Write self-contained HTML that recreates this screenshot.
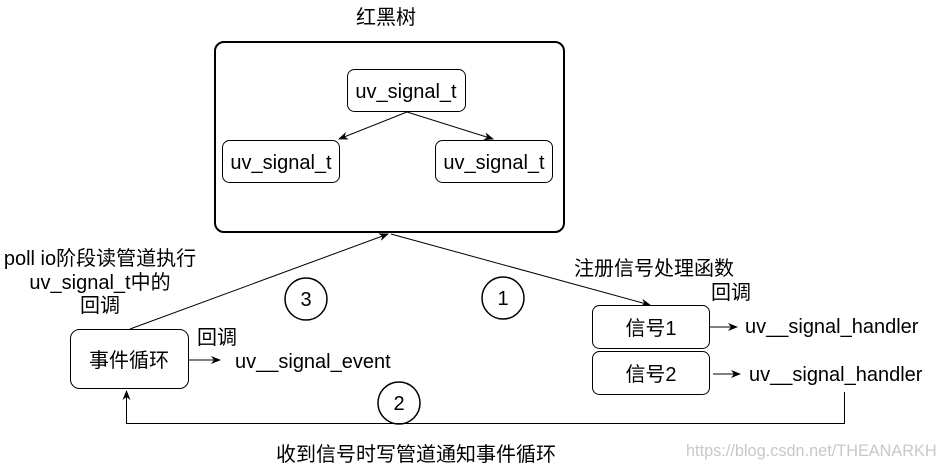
<!DOCTYPE html>
<html><head><meta charset="utf-8"><style>
html,body{margin:0;padding:0;background:#fff;}
svg{display:block;}
text{font-family:"Liberation Sans","Noto Sans CJK SC",sans-serif;font-size:20px;fill:#000;}
</style></head><body>
<svg width="942" height="468" viewBox="0 0 942 468" xmlns="http://www.w3.org/2000/svg">
<defs>
<marker id="a" markerWidth="10" markerHeight="8" refX="9" refY="4" orient="auto" markerUnits="userSpaceOnUse">
<path d="M0,0 L10,4 L0,8 L3,4 Z" fill="#000"/>
</marker>
</defs>
<text x="386" y="24" text-anchor="middle">红黑树</text>
<rect x="215" y="42" width="349" height="190" rx="9" fill="#fff" stroke="#000" stroke-width="2"/>
<rect x="347.5" y="69.5" width="118" height="42" rx="7" fill="#fff" stroke="#000"/>
<text x="406" y="98" text-anchor="middle">uv_signal_t</text>
<rect x="222.5" y="140.5" width="117" height="42" rx="7" fill="#fff" stroke="#000"/>
<text x="281" y="169" text-anchor="middle">uv_signal_t</text>
<rect x="435.5" y="140.5" width="117" height="42" rx="7" fill="#fff" stroke="#000"/>
<text x="494" y="169" text-anchor="middle">uv_signal_t</text>
<line x1="407" y1="112" x2="339" y2="139" stroke="#000" marker-end="url(#a)"/>
<line x1="407" y1="112" x2="493" y2="139" stroke="#000" marker-end="url(#a)"/>

<line x1="130" y1="329" x2="388" y2="234" stroke="#000" marker-end="url(#a)"/>
<line x1="391" y1="234" x2="650" y2="305" stroke="#000" marker-end="url(#a)"/>

<circle cx="306" cy="299" r="21" fill="#fff" stroke="#000" stroke-width="1.5"/>
<text x="306" y="306" text-anchor="middle">3</text>
<circle cx="503" cy="298" r="21" fill="#fff" stroke="#000" stroke-width="1.5"/>
<text x="503" y="305" text-anchor="middle">1</text>
<circle cx="399" cy="403" r="21" fill="#fff" stroke="#000" stroke-width="1.5"/>
<text x="399" y="410" text-anchor="middle">2</text>

<text x="100" y="265" text-anchor="middle">poll io阶段读管道执行</text>
<text x="100" y="289" text-anchor="middle">uv_signal_t中的</text>
<text x="100" y="312" text-anchor="middle">回调</text>

<rect x="70.5" y="329.5" width="118" height="59" rx="9" fill="#fff" stroke="#000"/>
<text x="129" y="367" text-anchor="middle">事件循环</text>
<line x1="189" y1="360" x2="220" y2="360" stroke="#000" marker-end="url(#a)"/>
<text x="197" y="344">回调</text>
<text x="235" y="368">uv__signal_event</text>

<text x="574" y="275">注册信号处理函数</text>
<text x="711" y="299">回调</text>
<rect x="592.5" y="305.5" width="117" height="43" rx="7" fill="#fff" stroke="#000"/>
<text x="651" y="335" text-anchor="middle">信号1</text>
<rect x="592.5" y="351.5" width="117" height="43" rx="7" fill="#fff" stroke="#000"/>
<text x="651" y="381" text-anchor="middle">信号2</text>
<line x1="710" y1="327" x2="737" y2="327" stroke="#000" marker-end="url(#a)"/>
<line x1="713" y1="374" x2="740" y2="374" stroke="#000" marker-end="url(#a)"/>
<text x="745" y="333">uv__signal_handler</text>
<text x="749" y="381">uv__signal_handler</text>

<polyline points="844.5,392 844.5,423.5 126.5,423.5 126.5,391" fill="none" stroke="#000" marker-end="url(#a)"/>
<text x="416" y="461" text-anchor="middle">收到信号时写管道通知事件循环</text>
<text x="686" y="456" style="fill:#c8c8c8;font-size:16.3px">https://blog.csdn.net/THEANARKH</text>
</svg>
</body></html>
